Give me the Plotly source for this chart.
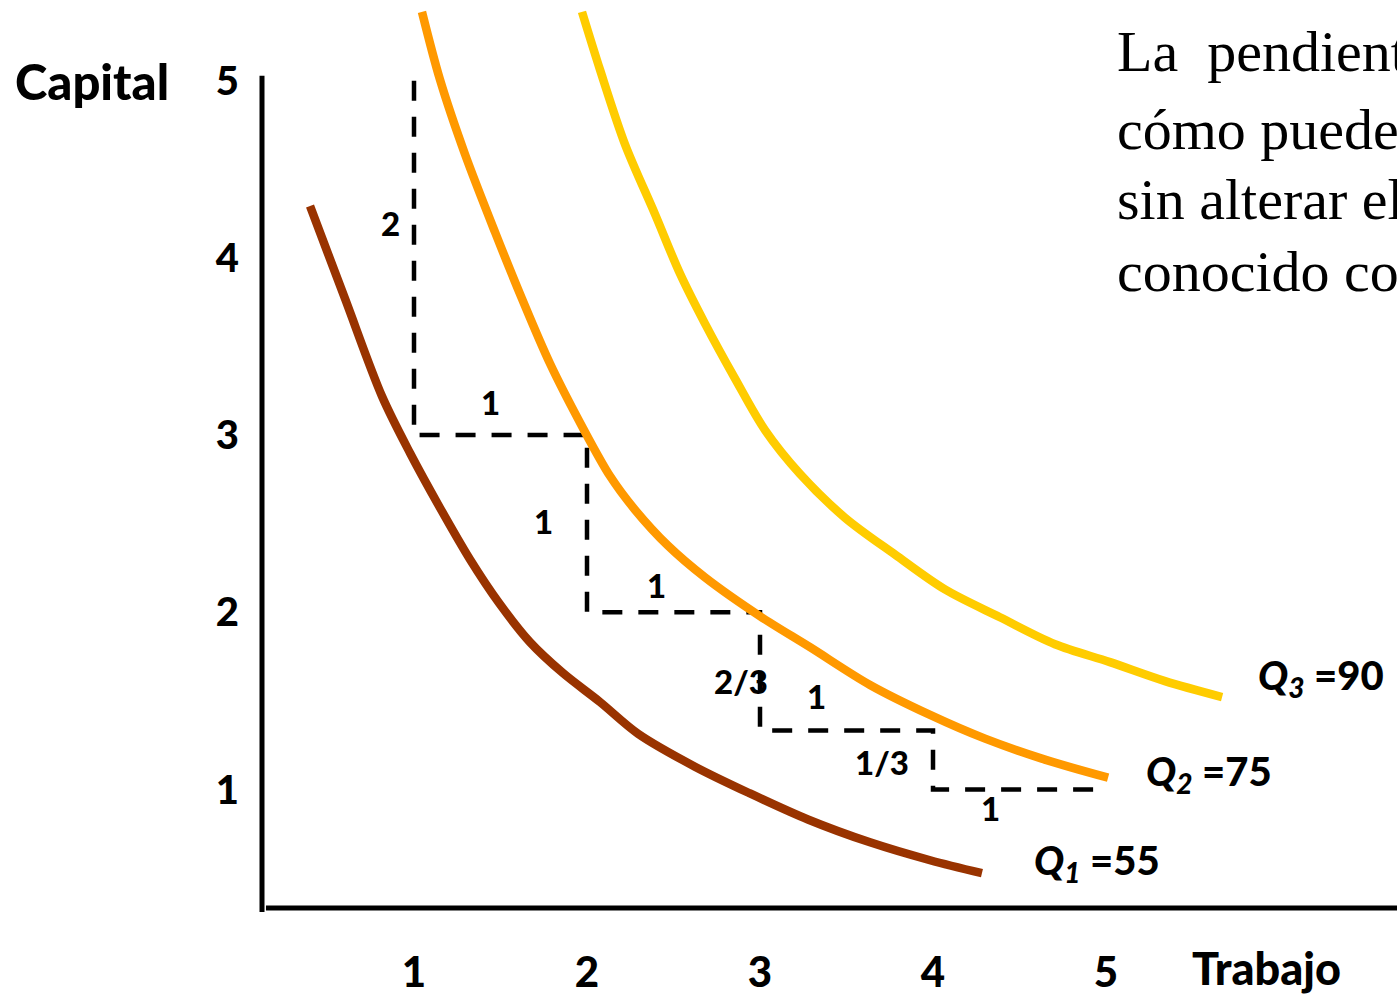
import plotly.graph_objects as go

# Isoquant curves: labour (Trabajo) vs capital
q1_labor = [0.399, 0.601, 0.815, 0.977, 1.150, 1.324, 1.497, 1.671, 1.861, 2.075,
            2.295, 2.624, 2.942, 3.277, 3.636, 3.983, 4.283]
q1_capital = [4.292, 3.770, 3.219, 2.899, 2.590, 2.298, 2.045, 1.831, 1.657, 1.494,
              1.315, 1.129, 0.978, 0.831, 0.702, 0.601, 0.528]

q2_labor = [1.046, 1.150, 1.295, 1.468, 1.624, 1.786, 1.977, 2.133, 2.277, 2.468,
            2.682, 3.000, 3.289, 3.636, 3.983, 4.301, 4.647, 5.012]
q2_capital = [5.388, 5.006, 4.584, 4.146, 3.770, 3.404, 3.039, 2.769, 2.579, 2.376,
              2.197, 1.978, 1.803, 1.590, 1.421, 1.287, 1.169, 1.067]

q3_labor = [1.971, 2.075, 2.220, 2.393, 2.538, 2.682, 2.855, 3.029, 3.231, 3.491,
            3.780, 4.069, 4.387, 4.705, 5.023, 5.341, 5.671]
q3_capital = [5.388, 5.062, 4.640, 4.247, 3.910, 3.629, 3.320, 3.028, 2.781, 2.534,
              2.326, 2.129, 1.972, 1.820, 1.719, 1.612, 1.522]

# Staircase of substitution steps along Q2
step_labor = [1, 1, 2, 2, 3, 3, 4, 4, 5]
step_capital = [5, 3, 3, 2, 2, 4 / 3, 4 / 3, 1, 1]
step_texts = ["2", "1", "1", "1", "2/3", "1", "1/3", "1"]

tick_values = [1, 2, 3, 4, 5]
tick_labels = ["1", "2", "3", "4", "5"]

curve_names = ["Q1", "Q2", "Q3"]
curve_labels = ["<i>Q</i><sub><i>1</i></sub> =55",
                "<i>Q</i><sub><i>2</i></sub> =75",
                "<i>Q</i><sub><i>3</i></sub> =90"]
curve_colors = ["#993300", "#FF9900", "#FFCC00"]

body_lines = ["La  pendiente de una isocuanta muestra",
              "cómo puede sustituirse un factor por otro",
              "sin alterar el nivel de producción,",
              "conocido como relación marginal"]

fig = go.Figure()

fig.add_trace(go.Scatter(x=step_labor, y=step_capital, mode="lines",
                         line=dict(color="black", width=4.5, dash="20px,16px"),
                         hoverinfo="skip", showlegend=False))

for xs, ys, name, color in zip([q1_labor, q2_labor, q3_labor],
                               [q1_capital, q2_capital, q3_capital],
                               curve_names, curve_colors):
    fig.add_trace(go.Scatter(x=xs, y=ys, mode="lines", name=name,
                             line=dict(color=color, width=8.5, shape="spline", smoothing=0.9),
                             showlegend=False))

bold = dict(family="Lato", color="black", weight=900)
annotations = []

# step size labels
step_pos = [(0.867, 4.197), (1.445, 3.185), (1.746, 2.517), (2.399, 2.152),
            (2.890, 1.612), (3.324, 1.528), (3.705, 1.157), (4.335, 0.893)]
for (sx, sy), txt in zip(step_pos, step_texts):
    annotations.append(dict(x=sx, y=sy, xref="x", yref="y", text=txt, showarrow=False,
                            font=dict(size=33, **bold)))

# curve labels
label_pos = [(0.6784, 0.0505), (0.7770, 0.1485), (0.8758, 0.2540)]
for (lx, ly), txt in zip(label_pos, curve_labels):
    annotations.append(dict(x=lx, y=ly, xref="paper", yref="paper", text=txt,
                            showarrow=False, xanchor="left", yanchor="middle",
                            font=dict(size=40, **bold)))

# axis titles
annotations.append(dict(x=-0.2195, y=5, xref="paper", yref="y", text="Capital",
                        showarrow=False, xanchor="left", yanchor="middle",
                        font=dict(size=49, **bold)))
annotations.append(dict(x=0.8176, y=-0.0658, xref="paper", yref="paper", text="Trabajo",
                        showarrow=False, xanchor="left", yanchor="middle",
                        font=dict(size=45, **bold)))

# explanatory text block, one line at a time
line_tops = [0.981, 0.8955, 0.818, 0.739]
for ty, txt in zip(line_tops, body_lines):
    annotations.append(dict(x=0.7515, y=ty, xref="paper", yref="paper",
                            text=txt, showarrow=False,
                            xanchor="left", yanchor="top", align="left",
                            font=dict(family="Liberation Serif", size=58, color="black")))

shapes = [
    # vertical axis
    dict(type="line", xref="paper", yref="paper", x0=0, x1=0, y0=-0.0044, y1=0.9167,
         line=dict(color="black", width=5)),
    # horizontal axis
    dict(type="line", xref="paper", yref="paper", x0=0.0035, x1=1.0, y0=0, y1=0,
         line=dict(color="black", width=5)),
]

fig.update_layout(
    width=1397, height=996,
    margin=dict(l=262, r=0, t=0, b=84),
    paper_bgcolor="white", plot_bgcolor="white",
    showlegend=False,
    annotations=annotations,
    shapes=shapes,
    xaxis=dict(range=[0.1214, 6.682], tickvals=tick_values, ticktext=tick_labels,
               showgrid=False, zeroline=False, showline=False, ticks="",
               ticklabelstandoff=36, tickfont=dict(size=42, **bold)),
    yaxis=dict(range=[0.3315, 5.455], tickvals=tick_values, ticktext=tick_labels,
               showgrid=False, zeroline=False, showline=False, ticks="",
               ticklabelstandoff=22, tickfont=dict(size=40, **bold)),
)

fig.write_html("out.html")
